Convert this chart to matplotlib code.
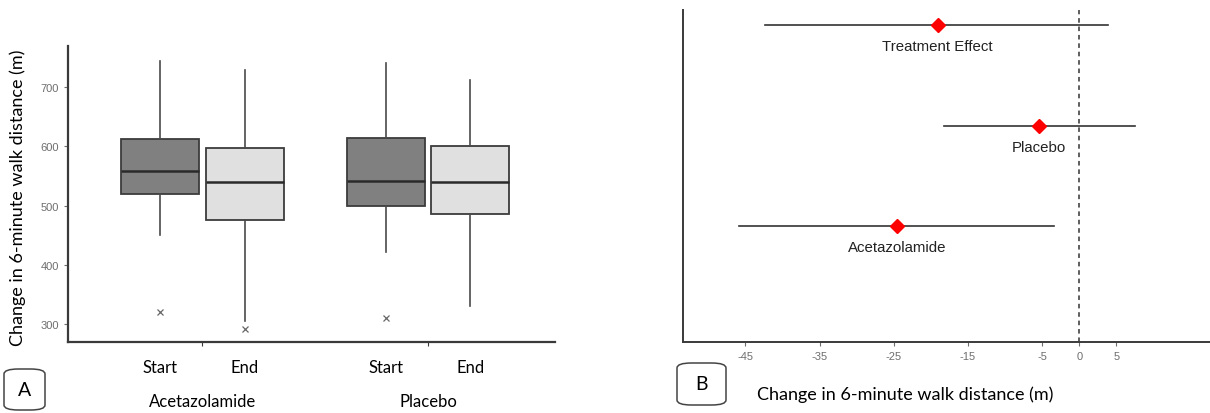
import numpy as np
import matplotlib
matplotlib.use("Agg")
import matplotlib.pyplot as plt
from matplotlib.patches import FancyBboxPatch

plt.rcParams["axes.unicode_minus"] = False

# panel A: box stats (whislo, q1, med, q3, whishi, outliers)
groups = ["Acetazolamide", "Placebo"]
timepoints = ["Start", "End"]
whislo = [450, 305, 422, 330]
q1 = [519, 476, 500, 486]
med = [558, 540, 541, 540]
q3 = [613, 597, 614, 600]
whishi = [744, 729, 741, 712]
fliers = [[320], [292], [311], []]
y_ticks_a = [300, 400, 500, 600, 700]

# panel B: estimates with 95% CI
labels_b = ["Treatment Effect", "Placebo", "Acetazolamide"]
est_b = [-19.1, -5.4, -24.6]
lo_b = [-42.4, -18.2, -45.9]
hi_b = [3.8, 7.5, -3.4]
x_ticks_b = [-45, -35, -25, -15, -5, 0, 5]

W, H = 1210, 414
fig = plt.figure(figsize=(W / 100, H / 100), dpi=100)

def ax_px(l, t, r, b):
    return fig.add_axes([l / W, 1 - b / H, (r - l) / W, (b - t) / H])

calibri = ["Lato", "DejaVu Sans"]
arial = ["Liberation Sans", "DejaVu Sans"]
spine_c = "#3a3a3a"

# ---------------- panel A ----------------
axA = ax_px(68, 47, 555, 343)
group_pos = [1, 2]
dodge = 0.188
pos = [g + d for g in group_pos for d in (-dodge, dodge)]
stats = []
for i in range(4):
    stats.append(dict(whislo=whislo[i], q1=q1[i], med=med[i], q3=q3[i],
                      whishi=whishi[i], fliers=fliers[i]))
bp = axA.bxp(stats, positions=pos, widths=0.346, patch_artist=True, showcaps=False,
             boxprops=dict(edgecolor="#3c3c3c", linewidth=1.3),
             medianprops=dict(color="#2a2a2a", linewidth=1.8),
             whiskerprops=dict(color="#4a4a4a", linewidth=1.2),
             flierprops=dict(marker="x", markersize=4, markeredgecolor="#666666",
                             markeredgewidth=0.9))
for i, b in enumerate(bp["boxes"]):
    b.set_facecolor("#808080" if i % 2 == 0 else "#e0e0e0")
axA.set_xlim(0.404, 2.563)
axA.set_ylim(270, 769)
axA.set_yticks(y_ticks_a)
axA.tick_params(axis="y", labelsize=8, labelcolor="#6e6e6e", color="#6e6e6e",
                length=3, width=0.8)
for lab in axA.get_yticklabels():
    lab.set_family(arial)
axA.set_xticks(group_pos)
axA.set_xticklabels([])
axA.tick_params(axis="x", length=3, color=spine_c, width=0.8)
for s in ["top", "right"]:
    axA.spines[s].set_visible(False)
for s in ["left", "bottom"]:
    axA.spines[s].set_color(spine_c)
    axA.spines[s].set_linewidth(1.6)
axA.set_ylabel("Change in 6-minute walk distance (m)", family=calibri, fontsize=13)
axA.yaxis.set_label_coords(-0.086, 0.49)

for i, p in enumerate(pos):
    axA.text(p, -0.085, timepoints[i % 2], transform=axA.get_xaxis_transform(),
             ha="center", va="center", family=calibri, fontsize=12)
for g, gname in enumerate(groups):
    axA.text(group_pos[g], -0.2, gname, transform=axA.get_xaxis_transform(),
             ha="center", va="center", family=calibri, fontsize=12)

# ---------------- panel B ----------------
axB = ax_px(683, 11, 1210, 343)
yb = [3, 2, 1]
for i in range(3):
    axB.plot([lo_b[i], hi_b[i]], [yb[i], yb[i]], color="#333333", lw=1.2, zorder=2)
    axB.plot(est_b[i], yb[i], marker="D", color="red", markersize=7.5, zorder=3)
    axB.text(est_b[i], yb[i] - 0.21, labels_b[i], ha="center", va="center",
             family=arial, fontsize=10.8, color="#222222")
axB.axvline(0, color="#333333", lw=1.1, ls=(0, (3, 2.5)), zorder=1)
axB.set_xlim(-53.4, 17.6)
axB.set_ylim(-0.15, 3.15)
axB.set_yticks([])
axB.set_xticks(x_ticks_b)
axB.tick_params(axis="x", labelsize=8, labelcolor="#6e6e6e", color="#6e6e6e",
                length=3, width=0.8)
for lab in axB.get_xticklabels():
    lab.set_family(arial)
for s in ["top", "right"]:
    axB.spines[s].set_visible(False)
for s in ["left", "bottom"]:
    axB.spines[s].set_color(spine_c)
    axB.spines[s].set_linewidth(1.4)
fig.text(905 / W, 1 - 395 / H, "Change in 6-minute walk distance (m)", ha="center",
         va="center", family=calibri, fontsize=13)

# ---------------- panel tags ----------------
for tag, (l, t, r, b) in [("A", (4, 370, 45, 411)), ("B", (677, 364, 726, 406))]:
    box = FancyBboxPatch((l / W, 1 - b / H), (r - l) / W, (b - t) / H,
                         boxstyle="round,pad=0,rounding_size=0.012",
                         transform=fig.transFigure, facecolor="white",
                         edgecolor="#444444", linewidth=1.1)
    fig.patches.append(box)
    fig.text((l + r) / 2 / W, 1 - (t + b) / 2 / H, tag, ha="center", va="center",
             family=calibri, fontsize=14)

fig.savefig("out.png", dpi=100)
